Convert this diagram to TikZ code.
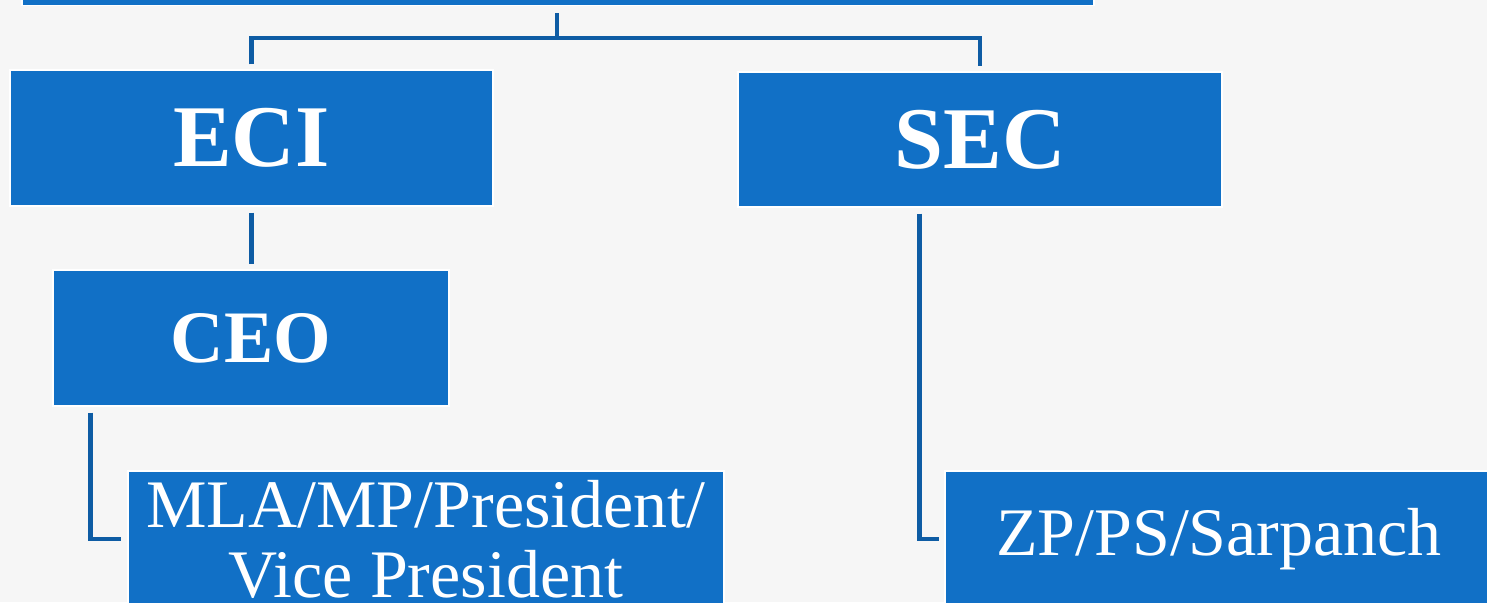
\documentclass[tikz,border=0pt]{standalone}
\usepackage{fontspec}
\setmainfont{Liberation Serif}
\definecolor{boxblue}{RGB}{17,112,198}
\definecolor{lineblue}{RGB}{14,92,164}
\definecolor{bggray}{RGB}{246,246,246}
\begin{document}
\begin{tikzpicture}[x=1pt,y=-1pt,
    box/.style={fill=boxblue,draw=white,line width=1.2pt,text=white,inner sep=0pt},
    bigbox/.style={box,font=\fontsize{88}{90}\selectfont\bfseries},
    midbox/.style={box,font=\fontsize{74}{76}\selectfont\bfseries},
    namebox/.style={box,font=\fontsize{68}{70}\selectfont,align=center},
    conn/.style={draw=lineblue,line width=4.5pt}]
    \fill[bggray] (0,0) rectangle (1487,602);
    \useasboundingbox (0,0) rectangle (1487,602);
    %Boxes%
    \node[box,minimum width=1072pt,minimum height=100pt] (top) at (558,-44.5) {};
    \node[bigbox,minimum width=483pt,minimum height=136pt] (eci) at (251.5,138) {ECI};
    \node[bigbox,minimum width=484pt,minimum height=135pt] (sec) at (980,139.5) {SEC};
    \node[midbox,minimum width=396pt,minimum height=136pt] (ceo) at (251,338) {CEO};
    \node[namebox,minimum width=596pt,minimum height=136pt] (mla) at (426,539) {MLA/MP/President/\\Vice President};
    \node[namebox,minimum width=548pt,minimum height=136pt] (zp) at (1219,539) {ZP/PS/Sarpanch};

    % Connectors %
    \coordinate (split) at (557,38);
    \draw[conn] ([yshift=-7pt]split |- top.south) -- (split);
    \draw[conn] ([yshift=5pt]eci.north) |- (split) -| ([yshift=5pt]sec.north);
    \draw[conn] ([yshift=-6pt]eci.south) -- ([yshift=5pt]eci.south |- ceo.north);
    \draw[conn] ([xshift=38pt,yshift=-6pt]ceo.south west) |- ([xshift=-6pt]mla.west);
    \draw[conn] ([xshift=182pt,yshift=-6pt]sec.south west) |- ([xshift=-5pt]zp.west);
\end{tikzpicture}
\end{document}
